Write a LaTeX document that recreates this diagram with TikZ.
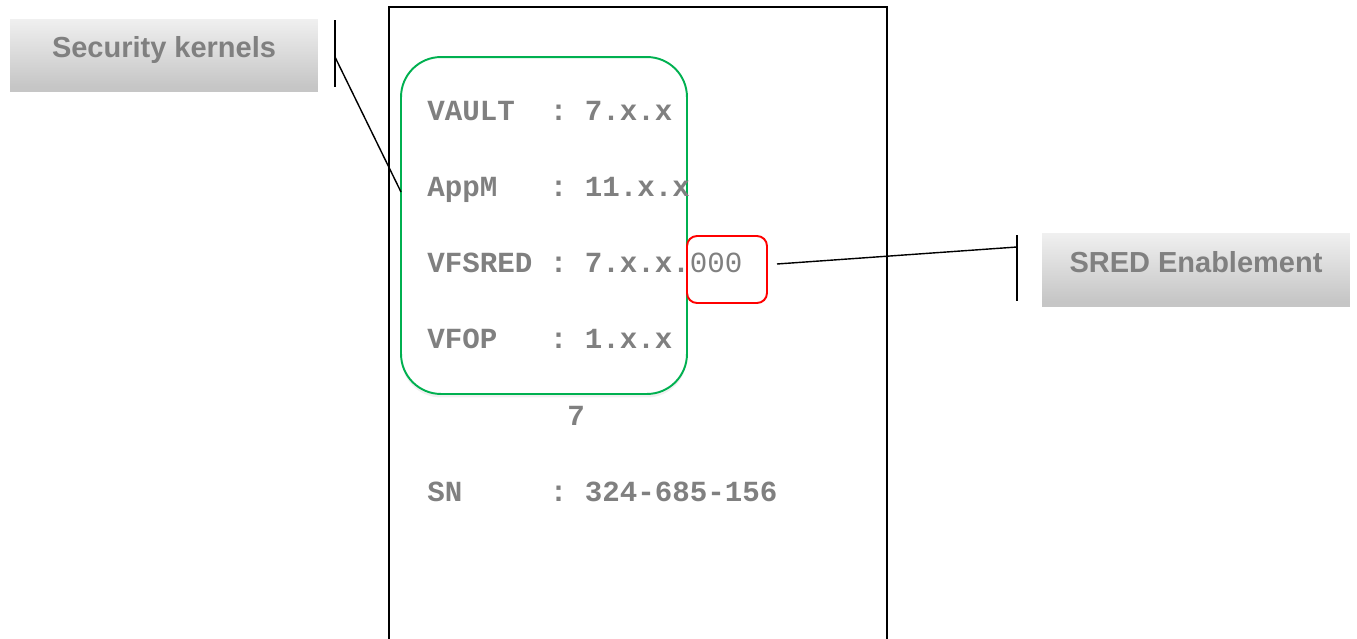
\documentclass[tikz,border=0pt]{standalone}
\usepackage{fontspec}
\setsansfont{Liberation Sans}
\newfontfamily\cardfont{Liberation Mono}
\usetikzlibrary{shadows}
\definecolor{txtgray}{HTML}{808080}
\definecolor{kerngreen}{HTML}{00B050}
\tikzset{
  tagbox/.style={top color=gray!12, bottom color=gray!45, minimum width=6.16cm, minimum height=1.36cm,
    text height=12pt, text depth=6.4pt,
    drop shadow={shadow xshift=0pt, shadow yshift=-3pt, opacity=.45},
    font=\sffamily\bfseries\fontsize{16.5}{18}\selectfont, text=txtgray},
  cardline/.style={anchor=base west, inner sep=0pt, text=txtgray,
    font=\cardfont\bfseries\fontsize{16.6}{18}\selectfont},
  bar/.style={line width=1.1pt},
}
\begin{document}
\begin{tikzpicture}[x=0.02cm,y=-0.02cm]
  \useasboundingbox (0,0) rectangle (1357,639);
  % card outline
  \draw[line width=1.1pt] (389,639) |- (887,7) -- (887,639);
  \node[draw=kerngreen, line width=1.1pt, rounded corners=0.8cm, minimum width=5.72cm, minimum height=6.74cm,
    drop shadow={shadow xshift=0pt, shadow yshift=-2pt, opacity=.12}, fill=white] (kern) at (544,225.5) {};
  \node[draw=red, line width=1.1pt, rounded corners=0.2cm, minimum width=1.6cm, minimum height=1.34cm] (ext) at (727,269.5) {};
  % card text
  \node[cardline] (vault) at (427,120) {VAULT~~: 7.x.x};
  \node[cardline] (appm) at (427,196) {AppM~~~: 11.x.x};
  \node[cardline] (vfsred) at (427,272) {VFSRED : 7.x.x.{\mdseries 000}};
  \node[cardline] (vfop) at (427,348) {VFOP~~~: 1.x.x};
  \node[cardline] (digit) at (567,425) {7};
  \node[cardline] (sn) at (427,501) {SN~~~~~: 324-685-156};
  % callouts
  \node[tagbox] (seck) at (164,53) {Security kernels};
  \node[tagbox] (sred) at (1196,267.5) {SRED Enablement};
  \draw[bar] (335,20) -- (335,87);
  \draw[bar] (1017,235) -- (1017,301);
  \coordinate (seckbar) at (335,57);
  \coordinate (seckend) at (401,192);
  \coordinate (sredbar) at (1017,247);
  \coordinate (sredend) at (777,264);
  \draw[line width=0.8pt] (seckbar) -- (seckend);
  \draw[line width=0.8pt] (sredend) -- (sredbar);
\end{tikzpicture}
\end{document}
